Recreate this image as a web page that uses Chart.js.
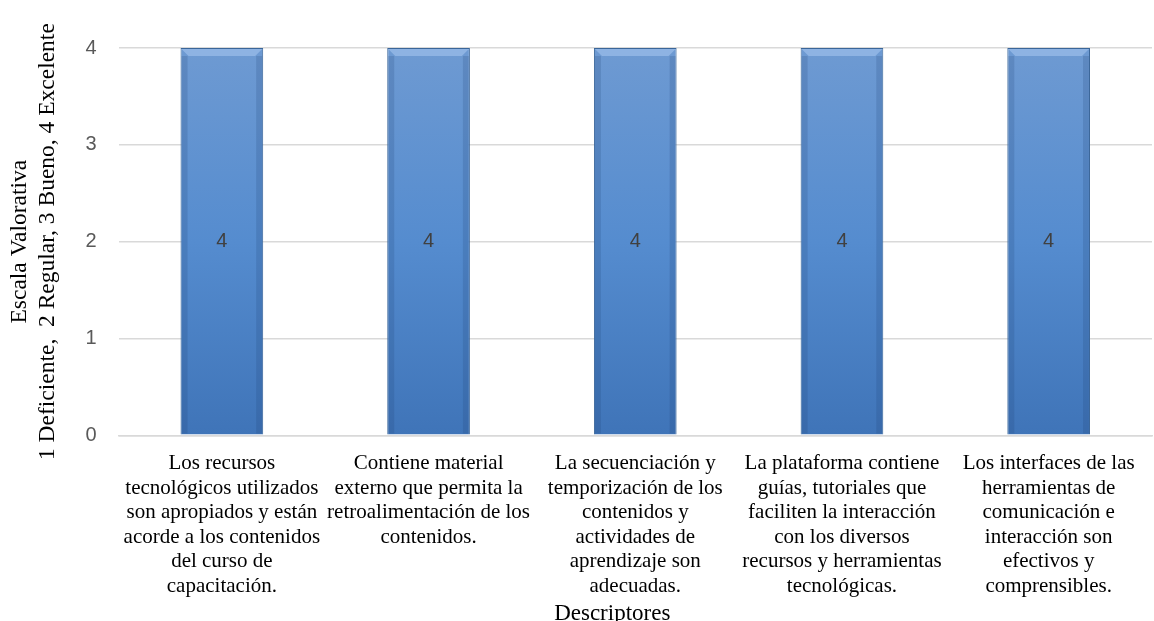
<!DOCTYPE html>
<html>
<head>
<meta charset="utf-8">
<script src="https://cdn.jsdelivr.net/npm/chart.js@4"></script>
<style>
  html, body { margin: 0; padding: 0; background: #fff; }
  #wrap { width: 1154px; height: 621px; }
</style>
</head>
<body>
<div id="wrap"><canvas id="chart"></canvas></div>
<script>
const descriptores = [
  ["Los recursos", "tecnológicos utilizados", "son apropiados y están", "acorde a los contenidos", "del curso de", "capacitación."],
  ["Contiene material", "externo que permita la", "retroalimentación de los", "contenidos."],
  ["La secuenciación y", "temporización de los", "contenidos y", "actividades de", "aprendizaje son", "adecuadas."],
  ["La plataforma contiene", "guías, tutoriales que", "faciliten la interacción", "con los diversos", "recursos y herramientas", "tecnológicas."],
  ["Los interfaces de las", "herramientas de", "comunicación e", "interacción son", "efectivos y", "comprensibles."]
];
const valores = [4, 4, 4, 4, 4];
const yTicks = [0, 1, 2, 3, 4];

// Vertical blue gradient for the bars
function barFill(context) {
  const area = context.chart.chartArea;
  if (!area) return "#4f81bd";
  const g = context.chart.ctx.createLinearGradient(0, area.top, 0, area.bottom);
  g.addColorStop(0, "#6e9ad2");
  g.addColorStop(0.5, "#558ccf");
  g.addColorStop(1, "#3f74b8");
  return g;
}

// Value labels in the middle of each bar, plus a light bevel on the edges
const barLabels = {
  id: "barLabels",
  afterDatasetsDraw(chart) {
    const ctx = chart.ctx;
    const meta = chart.getDatasetMeta(0);
    meta.data.forEach((bar, i) => {
      const w = bar.width;
      const left = bar.x - w / 2;
      const top = bar.y;
      const bottom = bar.base;
      ctx.save();
      // top highlight
      ctx.fillStyle = "rgba(170,200,240,0.55)";
      ctx.beginPath();
      ctx.moveTo(left + 1, top + 1);
      ctx.lineTo(left + w - 1, top + 1);
      ctx.lineTo(left + w - 8, top + 8);
      ctx.lineTo(left + 8, top + 8);
      ctx.closePath();
      ctx.fill();
      // side shading
      ctx.fillStyle = "rgba(30,60,110,0.18)";
      ctx.fillRect(left + 1, top + 8, 6, bottom - top - 9);
      ctx.fillRect(left + w - 7, top + 8, 6, bottom - top - 9);
      ctx.fillStyle = "#404040";
      ctx.font = "20px 'Liberation Sans', Arial, sans-serif";
      ctx.textAlign = "center";
      ctx.textBaseline = "middle";
      ctx.fillText(String(valores[i]), bar.x, (top + bottom) / 2);
      ctx.restore();
    });
  }
};

new Chart(document.getElementById("chart"), {
  type: "bar",
  data: {
    labels: descriptores,
    datasets: [{
      data: valores,
      backgroundColor: barFill,
      borderColor: "#3a6699",
      borderWidth: 1,
      categoryPercentage: 0.4,
      barPercentage: 1
    }]
  },
  options: {
    responsive: true,
    maintainAspectRatio: false,
    animation: false,
    layout: { padding: { top: 48, right: 2, left: 4, bottom: 0 } },
    plugins: {
      legend: { display: false },
      tooltip: { enabled: false }
    },
    scales: {
      x: {
        grid: { display: false, drawTicks: false },
        border: { color: "#d9d9d9", width: 1.5 },
        ticks: {
          maxRotation: 0,
          minRotation: 0,
          autoSkip: false,
          color: "#000",
          padding: 16,
          font: { family: "'Liberation Serif', 'Times New Roman', serif", size: 21, lineHeight: 1.17 }
        },
        title: {
          display: true,
          // trailing spaces nudge the centred title a little to the left
          text: "Descriptores        ",
          color: "#000",
          padding: { top: -13, bottom: -6 },
          font: { family: "'Liberation Serif', 'Times New Roman', serif", size: 23, lineHeight: 1.1 }
        }
      },
      y: {
        min: 0,
        max: 4,
        afterBuildTicks: axis => { axis.ticks = yTicks.map(v => ({ value: v })); },
        grid: { color: "#d9d9d9", lineWidth: 1.5, drawTicks: false },
        border: { display: false },
        ticks: {
          color: "#595959",
          padding: 22,
          font: { family: "'Liberation Sans', Arial, sans-serif", size: 20 }
        },
        title: {
          display: true,
          text: ["Escala Valorativa", "1 Deficiente,  2 Regular, 3 Bueno, 4 Excelente"],
          color: "#000",
          padding: { top: 2, bottom: 1 },
          font: { family: "'Liberation Serif', 'Times New Roman', serif", size: 23.5, lineHeight: 1.2 }
        }
      }
    }
  },
  plugins: [barLabels]
});
</script>
</body>
</html>
